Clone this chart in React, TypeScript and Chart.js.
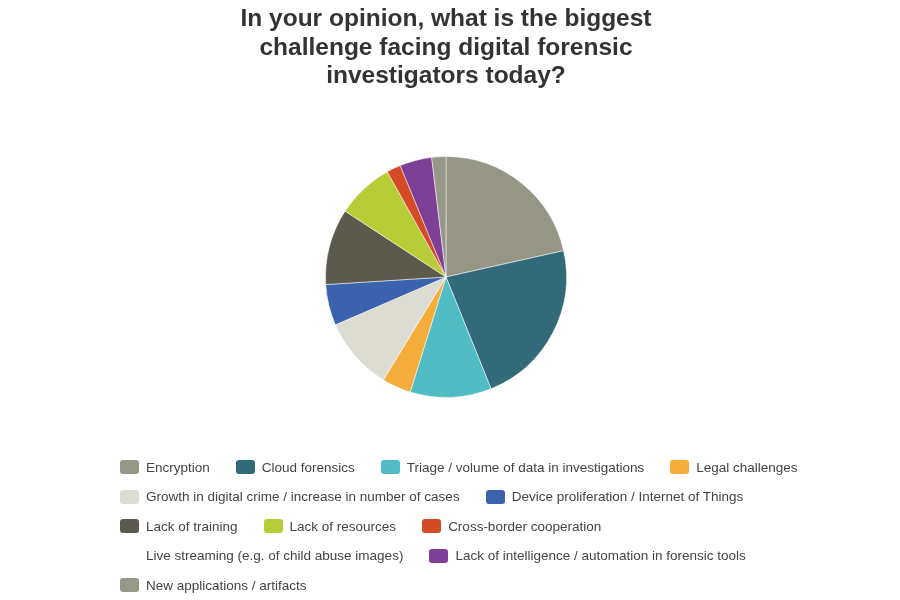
import React, { useEffect, useRef } from "react";
import { Chart, registerables } from "chart.js";

Chart.register(...registerables);

const titleLines = [
  "In your opinion, what is the biggest",
  "challenge facing digital forensic",
  "investigators today?",
];

const categories = [
  "Encryption",
  "Cloud forensics",
  "Triage / volume of data in investigations",
  "Legal challenges",
  "Growth in digital crime / increase in number of cases",
  "Device proliferation / Internet of Things",
  "Lack of training",
  "Lack of resources",
  "Cross-border cooperation",
  "Live streaming (e.g. of child abuse images)",
  "Lack of intelligence / automation in forensic tools",
  "New applications / artifacts",
];

const shares = [21.5, 22.4, 10.9, 3.9, 9.8, 5.5, 10.2, 7.7, 1.9, 0, 4.3, 1.9];

const sliceColors = [
  "#969686",
  "#336a79",
  "#4fbcc6",
  "#f5ad3b",
  "#dddcd2",
  "#3b62ad",
  "#5b5a4c",
  "#b8cc38",
  "#d54b25",
  "#ffffff",
  "#7e3f97",
  "#989888",
];

const FONT = '"Liberation Sans", Arial, Helvetica, sans-serif';

export default function App() {
  const canvasRef = useRef<HTMLCanvasElement | null>(null);

  useEffect(() => {
    if (!canvasRef.current) return;
    const chart = new Chart(canvasRef.current, {
      type: "pie",
      data: {
        labels: categories,
        datasets: [
          {
            data: shares,
            backgroundColor: sliceColors,
            borderColor: "rgba(255,255,255,0.5)",
            borderWidth: 1,
          },
        ],
      },
      options: {
        responsive: false,
        animation: false,
        layout: { padding: { left: 0, right: 8, top: 0, bottom: 202 } },
        plugins: {
          legend: { display: false },
          tooltip: { enabled: false },
          title: {
            display: true,
            text: titleLines,
            color: "#333333",
            font: { family: FONT, size: 24.5, weight: "bold", lineHeight: 1.17 },
            padding: { top: 5, bottom: 65 },
          },
        },
      },
    });
    return () => chart.destroy();
  }, []);

  return (
    <div
      style={{
        position: "fixed",
        left: 0,
        top: 0,
        width: 900,
        height: 600,
        background: "#ffffff",
        overflow: "hidden",
      }}
    >
      <canvas ref={canvasRef} width={900} height={600} style={{ display: "block" }} />
      <div
        style={{
          position: "absolute",
          left: 120,
          top: 452.25,
          width: 700,
          display: "flex",
          flexWrap: "wrap",
          columnGap: 26,
          fontFamily: FONT,
          fontSize: 13.5,
          color: "#444444",
        }}
      >
        {categories.map((c, i) => (
          <div
            key={c}
            style={{
              display: "flex",
              alignItems: "center",
              height: 29.5,
              whiteSpace: "nowrap",
            }}
          >
            <span
              style={{
                display: "inline-block",
                width: 19,
                height: 14,
                borderRadius: 3,
                background: sliceColors[i],
                marginRight: 7,
              }}
            />
            <span>{c}</span>
          </div>
        ))}
      </div>
    </div>
  );
}
